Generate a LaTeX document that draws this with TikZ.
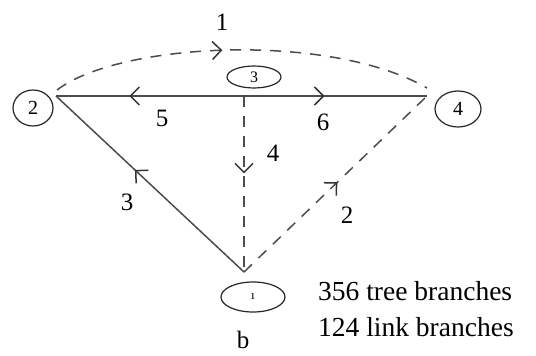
\documentclass[tikz,border=0pt]{standalone}
\usepackage{fontspec}
\setmainfont{Liberation Serif}
\usetikzlibrary{shapes.geometric,arrows.meta,decorations.markings}
\begin{document}
\begin{tikzpicture}[x=1pt,y=-1pt,
  ln/.style={draw=black!70,line width=1.5pt},
  dsh/.style={ln,dash pattern=on 11pt off 9pt},
  vnode/.style={ellipse,draw=black!85,line width=1.2pt,inner sep=0pt,font=\fontsize{20}{20}\selectfont},
  lbl/.style={font=\fontsize{25}{25}\selectfont,inner sep=0pt},
  txt/.style={font=\fontsize{27.5}{30}\selectfont,inner sep=0pt,anchor=base west},
  mk/.style={postaction={decorate,decoration={markings,mark=at position #1 with {\arrow[black!80,line width=1.5pt]{Straight Barb[length=9pt,width=18pt]}}}}}
]
\useasboundingbox (0,0) rectangle (536,356);
% nodes
\node[vnode,minimum width=40pt,minimum height=36pt] (n2) at (33,108) {2};
\node[vnode,minimum width=54pt,minimum height=22pt] (n3) at (254,77) {\fontsize{16}{16}\selectfont 3};
\node[vnode,minimum width=46pt,minimum height=36pt] (n4) at (458,109) {4};
\node[vnode,minimum width=64pt,minimum height=30pt] (n1) at (253,297) {\fontsize{13}{13}\selectfont\i};
% junctions
\coordinate (j2) at (56,96);
\coordinate (j3) at (244,96);
\coordinate (j4) at (427,96);
\coordinate (j1) at (244,272);
\coordinate (a2) at (57,90);
\coordinate (a4) at (427,88);
% edges
\draw[ln,mk=0.61] (j3) -- (j2);
\draw[ln,mk=0.44] (j3) -- (j4);
\draw[dsh,mk=0.44] (j3) -- (j1);
\draw[ln,mk=0.58] (j1) -- (j2);
\draw[dsh,mk=0.51] (j1) -- (j4);
\draw[dsh,mk=0.45] (a2) .. controls (120,42) and (330,32) .. (a4);
% labels
\node[lbl] (l1) at (222,22) {1};
\node[lbl] (l5) at (162,118) {5};
\node[lbl] (l6) at (323,122) {6};
\node[lbl] (l4) at (273,153) {4};
\node[lbl] (l3) at (127,202) {3};
\node[lbl] (l2) at (347,215) {2};
\node[lbl] (lb) at (243,340) {b};
\node[txt] (t1) at (318,300) {356 tree branches};
\node[txt] (t2) at (318,336) {124 link branches};
\end{tikzpicture}
\end{document}
